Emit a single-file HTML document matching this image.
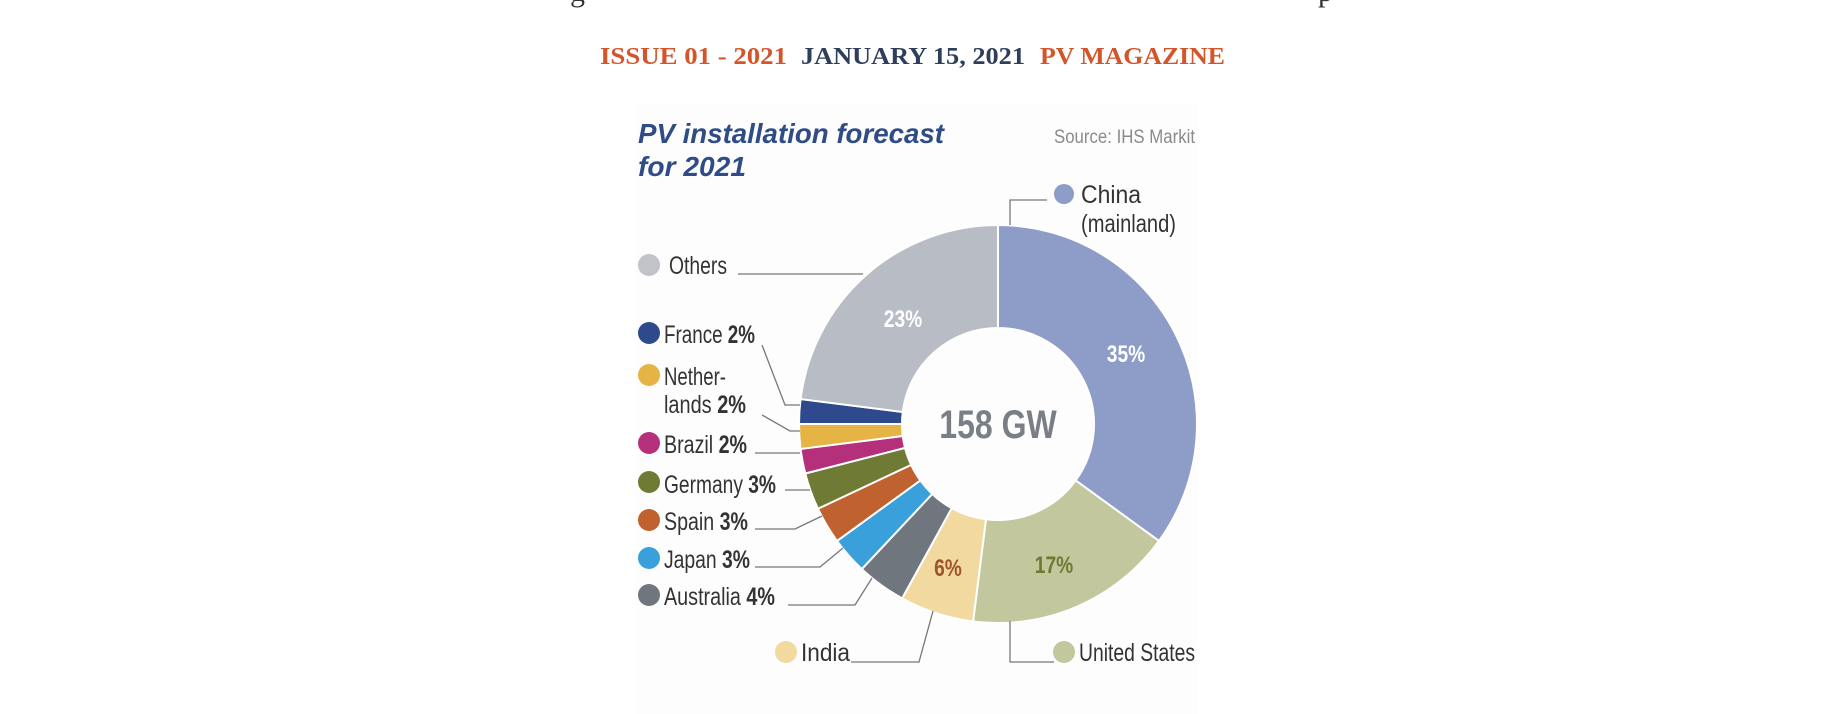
<!DOCTYPE html>
<html><head><meta charset="utf-8"><style>
html,body{margin:0;padding:0;background:#fff;}
svg{display:block}
.lg{font-family:"Liberation Sans",sans-serif;font-size:25px;fill:#333;}
</style></head><body>
<svg width="1836" height="714" viewBox="0 0 1836 714" xmlns="http://www.w3.org/2000/svg">
<rect width="1836" height="714" fill="#fff"/>
<text x="570" y="1" font-family="Liberation Serif,serif" font-size="30" fill="#333">g</text>
<text x="1318" y="1" font-family="Liberation Serif,serif" font-size="30" fill="#333">p</text>
<g font-family="Liberation Serif,serif" font-weight="bold" font-size="24">
<text x="600" y="64" fill="#d4552a" textLength="187" lengthAdjust="spacingAndGlyphs">ISSUE 01 - 2021</text>
<text x="801" y="64" fill="#2e3f5c" textLength="224" lengthAdjust="spacingAndGlyphs">JANUARY 15, 2021</text>
<text x="1040" y="64" fill="#d4552a" textLength="185" lengthAdjust="spacingAndGlyphs">PV MAGAZINE</text>
</g>
<rect x="636" y="103" width="561" height="611" fill="#fdfdfd"/>
<g font-family="Liberation Sans,sans-serif" font-weight="bold" font-style="italic" font-size="28" fill="#2f4c86">
<text x="638" y="143" textLength="306" lengthAdjust="spacingAndGlyphs">PV installation forecast</text>
<text x="638" y="176" textLength="108" lengthAdjust="spacingAndGlyphs">for 2021</text>
</g>
<text x="1054" y="143" font-family="Liberation Sans,sans-serif" font-size="19" fill="#8a8a8a" textLength="141" lengthAdjust="spacingAndGlyphs">Source: IHS Markit</text>
<g id="donut" stroke="#fff" stroke-width="2"></g>
<g font-family="Liberation Sans,sans-serif" font-weight="bold" font-size="24">
<text x="1126" y="362" text-anchor="middle" fill="#fff" transform="translate(1126 0) scale(0.8 1) translate(-1126 0)">35%</text>
<text x="903" y="327" text-anchor="middle" fill="#fff" transform="translate(903 0) scale(0.8 1) translate(-903 0)">23%</text>
<text x="1054" y="573" text-anchor="middle" fill="#6e7a30" transform="translate(1054 0) scale(0.8 1) translate(-1054 0)">17%</text>
<text x="948" y="576" text-anchor="middle" fill="#a0522d" transform="translate(948 0) scale(0.8 1) translate(-948 0)">6%</text>
<text x="998" y="438" text-anchor="middle" fill="#7a7f86" font-size="40" transform="translate(998 0) scale(0.8 1) translate(-998 0)">158 GW</text>
</g>
<g fill="none" stroke="#777" stroke-width="1.3">
<polyline points="1010,225 1010,200 1047,200"/>
<polyline points="738,274 863,274"/>
<polyline points="762,345 785,405 800,405"/>
<polyline points="762,415 790,431 800,431"/>
<polyline points="755,453 800,453"/>
<polyline points="785,490 810,490"/>
<polyline points="755,529 795,529 822,516"/>
<polyline points="755,567 820,567 843,548"/>
<polyline points="788,605 855,605 872,578"/>
<polyline points="851,662 919,662 933,611"/>
<polyline points="1010,621 1010,662 1054,662"/>
</g>
<g>
<circle cx="1064" cy="194" r="10" fill="#8e9cc8"/>
<circle cx="649" cy="265" r="11" fill="#c0c3c9"/>
<circle cx="649" cy="333" r="11" fill="#2e4a8c"/>
<circle cx="649" cy="375" r="11" fill="#e6b444"/>
<circle cx="649" cy="443" r="11" fill="#b4307a"/>
<circle cx="649" cy="482" r="11" fill="#6f7a35"/>
<circle cx="649" cy="520" r="11" fill="#c0622f"/>
<circle cx="649" cy="558" r="11" fill="#3aa0dc"/>
<circle cx="649" cy="595" r="11" fill="#6f767d"/>
<circle cx="786" cy="652" r="11" fill="#f1d9a0"/>
<circle cx="1064" cy="652" r="11" fill="#c3c79e"/>
</g>
<g class="lg">
<text x="1081" y="203" textLength="60" lengthAdjust="spacingAndGlyphs">China</text>
<text x="1081" y="232" textLength="95" lengthAdjust="spacingAndGlyphs">(mainland)</text>
<text x="669" y="274" textLength="58" lengthAdjust="spacingAndGlyphs">Others</text>
<text x="664" y="343" textLength="91" lengthAdjust="spacingAndGlyphs">France <tspan font-weight="bold">2%</tspan></text>
<text x="664" y="385" textLength="62" lengthAdjust="spacingAndGlyphs">Nether-</text>
<text x="664" y="413" textLength="82" lengthAdjust="spacingAndGlyphs">lands <tspan font-weight="bold">2%</tspan></text>
<text x="664" y="453" textLength="83" lengthAdjust="spacingAndGlyphs">Brazil <tspan font-weight="bold">2%</tspan></text>
<text x="664" y="493" textLength="112" lengthAdjust="spacingAndGlyphs">Germany <tspan font-weight="bold">3%</tspan></text>
<text x="664" y="530" textLength="84" lengthAdjust="spacingAndGlyphs">Spain <tspan font-weight="bold">3%</tspan></text>
<text x="664" y="568" textLength="86" lengthAdjust="spacingAndGlyphs">Japan <tspan font-weight="bold">3%</tspan></text>
<text x="664" y="605" textLength="111" lengthAdjust="spacingAndGlyphs">Australia <tspan font-weight="bold">4%</tspan></text>
<text x="801" y="661" textLength="49" lengthAdjust="spacingAndGlyphs">India</text>
<text x="1079" y="661" textLength="116" lengthAdjust="spacingAndGlyphs">United States</text>
</g>
<script>
(function(){
var cx=998,cy=424,R=199,r=96;
var d=[[35,"#8e9cc8"],[17,"#c3c79e"],[6,"#f1d9a0"],[4,"#6f767d"],[3,"#3aa0dc"],[3,"#c0622f"],[3,"#6f7a35"],[2,"#b4307a"],[2,"#e6b444"],[2,"#2e4a8c"],[23,"#b8bcc4"]];
var g=document.getElementById("donut"),a=0,ns="http://www.w3.org/2000/svg";
function p(rad,ang){var t=ang*Math.PI/180;return [cx+rad*Math.sin(t),cy-rad*Math.cos(t)];}
d.forEach(function(s){var b=a+s[0]*3.6;var L=(b-a)>180?1:0;
var p1=p(R,a),p2=p(R,b),p3=p(r,b),p4=p(r,a);
var e=document.createElementNS(ns,"path");
e.setAttribute("d","M"+p1+"A"+R+","+R+" 0 "+L+" 1 "+p2+"L"+p3+"A"+r+","+r+" 0 "+L+" 0 "+p4+"Z");
e.setAttribute("fill",s[1]);g.appendChild(e);a=b;});
})();
</script>
</svg>
</body></html>
